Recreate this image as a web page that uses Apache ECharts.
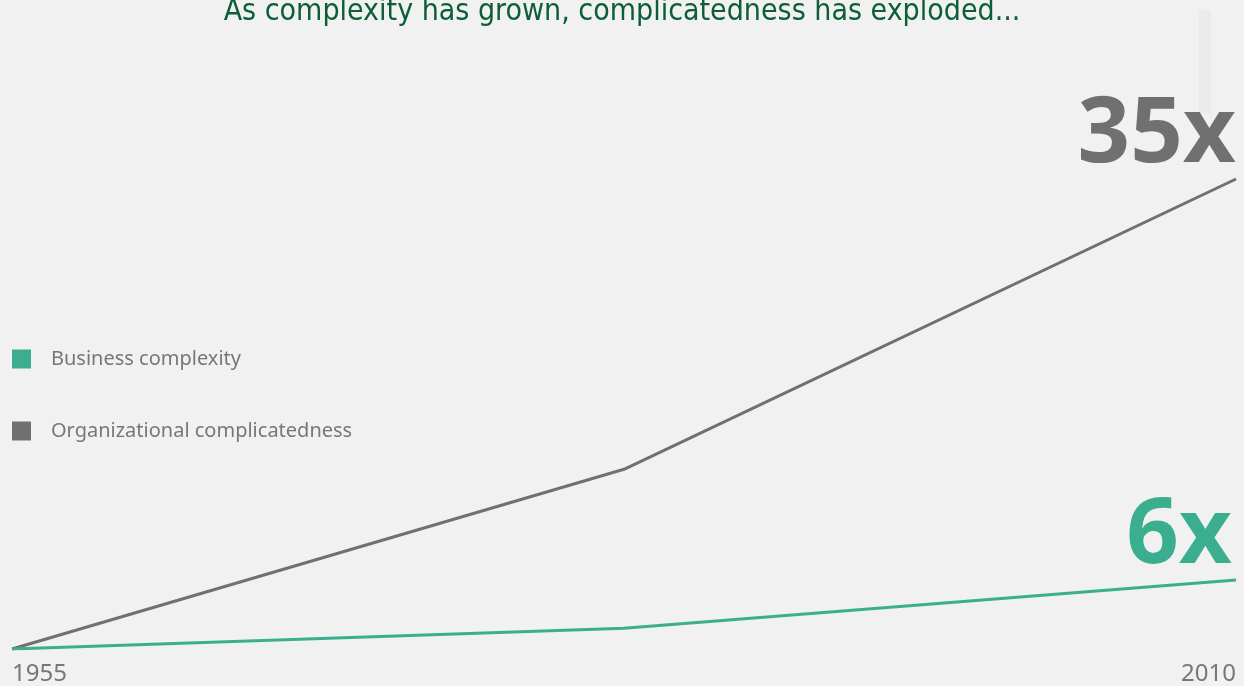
<!DOCTYPE html>
<html>
<head>
<meta charset="utf-8">
<script src="https://cdn.jsdelivr.net/npm/echarts@6/dist/echarts.min.js"></script>
<style>
  html, body { margin: 0; padding: 0; background: #f1f1f1; }
  #chart { width: 1244px; height: 686px; }
</style>
</head>
<body>
<div id="chart"></div>
<script>
// Years along the x axis (middle point is unlabeled)
const years = ['1955', '', '2010'];
// Growth multiples relative to 1955
const businessComplexity = [1, 2.5, 6];
const orgComplicatedness = [1, 14, 35];
// Multiples called out at the end of each line
const endMultiples = ['6x', '35x'];

const GREEN = '#3bae8f';
const GRAY = '#707070';

function endLabel(text, color, dx) {
  return {
    show: true,
    formatter: () => text,
    align: 'right',
    verticalAlign: 'bottom',
    offset: [dx, 3],
    distance: 0,
    color: color,
    fontFamily: "'Open Sans', 'Noto Sans', sans-serif",
    fontWeight: 700,
    fontSize: 92,
    lineHeight: 92
  };
}

const chart = echarts.init(document.getElementById('chart'), null, { renderer: 'canvas' });
chart.setOption({
  backgroundColor: '#f1f1f1',
  animation: false,
  title: {
    text: 'As complexity has grown, complicatedness has exploded...',
    left: 'center',
    top: -8,
    textStyle: {
      color: '#0d5e36',
      fontFamily: "'Liberation Sans Narrow', 'DejaVu Sans Condensed', 'Roboto Condensed', sans-serif",
      fontWeight: 'normal',
      fontSize: 30
    }
  },
  graphic: [{
    type: 'rect',
    z: -1,
    shape: { x: 1199, y: 10, width: 12, height: 104 },
    style: { fill: '#ebebeb' },
    silent: true
  }],
  legend: {
    orient: 'vertical',
    left: 7,
    top: 344,
    itemWidth: 19,
    itemHeight: 19,
    itemGap: 52,
    icon: 'rect',
    textStyle: { color: '#777777', fontFamily: 'Noto Sans', fontSize: 20, padding: [0, 0, 0, 15] },
    data: ['Business complexity', 'Organizational complicatedness']
  },
  grid: { left: 12, right: 8, top: 179, bottom: 36, containLabel: false },
  xAxis: {
    type: 'category',
    data: years,
    boundaryGap: false,
    axisLine: { show: false },
    axisTick: { show: false },
    axisLabel: {
      interval: 0,
      margin: 13,
      color: '#777777',
      fontFamily: 'Noto Sans',
      fontSize: 24,
      alignMinLabel: 'left',
      alignMaxLabel: 'right'
    }
  },
  yAxis: {
    type: 'value',
    min: 1,
    max: 35,
    show: false,
    splitLine: { show: false }
  },
  series: [
    {
      name: 'Business complexity',
      type: 'line',
      data: businessComplexity,
      color: GREEN,
      lineStyle: { color: GREEN, width: 3 },
      symbol: 'none',
      endLabel: endLabel(endMultiples[0], GREEN, -4),
      silent: true,
      z: 3
    },
    {
      name: 'Organizational complicatedness',
      type: 'line',
      data: orgComplicatedness,
      color: GRAY,
      lineStyle: { color: GRAY, width: 3 },
      symbol: 'none',
      endLabel: endLabel(endMultiples[1], GRAY, 0),
      silent: true,
      z: 2
    }
  ]
});
</script>
</body>
</html>
